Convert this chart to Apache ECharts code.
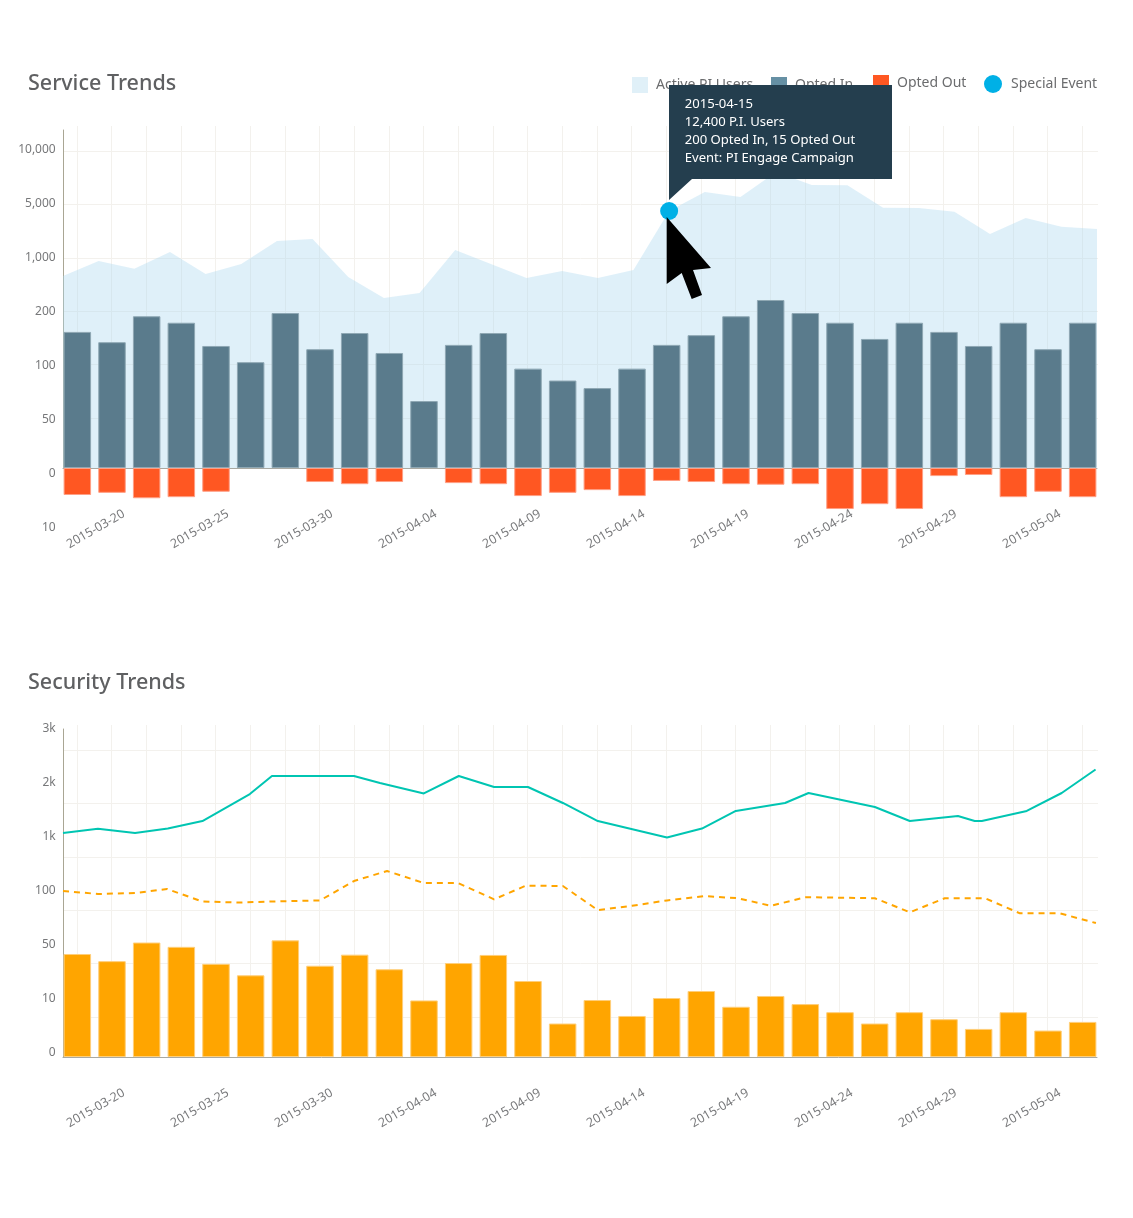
<!DOCTYPE html>
<html lang="en">
<head>
    <meta charset="utf-8">
    <title>Service and Security Trends</title>
    <style>
        html, body { margin: 0; padding: 0; background: #fff; }
        #main { width: 1133px; height: 1218px; }
    </style>
</head>
<body>
<div id="main"></div>
<script src="https://cdn.jsdelivr.net/npm/echarts@6/dist/echarts.min.js"></script>
<script>
var dates = ['2015-03-19','2015-03-20','2015-03-21','2015-03-23','2015-03-25','2015-03-26','2015-03-28','2015-03-30','2015-03-31','2015-04-02',
    '2015-04-04','2015-04-05','2015-04-07','2015-04-09','2015-04-10','2015-04-12','2015-04-14','2015-04-15','2015-04-17','2015-04-19',
    '2015-04-20','2015-04-22','2015-04-24','2015-04-25','2015-04-27','2015-04-29','2015-04-30','2015-05-02','2015-05-04','2015-05-05'];

// the y axes are not linear, each tick value sits one step above the last
var serviceTicks = [-10, 0, 50, 100, 200, 1000, 5000, 10000];
var serviceTickLabels = ['10', '0', '50', '100', '200', '1,000', '5,000', '10,000'];
var securityTicks = [0, 10, 50, 100, 1000, 2000, 3000];
var securityTickLabels = ['0', '10', '50', '100', '1k', '2k', '3k'];

var activeUsers = [644,867,753,1000,674,822,1815,1963,630,319,393,1148,822,615,719,615,733,4037,5556,5093,7407,6204,6176,4281,4259,3985,2333,3519,2874,2704];
var optedIn = [152,133,181,169,126,98,187,120,150,113,62,128,150,92,81,74,92,128,146,181,289,187,169,139,169,152,126,169,120,169];
var optedOut = [5,4.6,5.6,5.4,4.4,0,0,2.6,3,2.6,0,2.8,3,5.2,4.6,4.1,5.2,2.4,2.6,3,3.1,3,7.6,6.7,7.6,1.5,1.3,5.4,4.4,5.4];
var eventIndex = 17;
var eventLines = ['2015-04-15', '12,400 P.I. Users', '200 Opted In, 15 Opted Out', 'Event: PI Engage Campaign'];

var securityBars = [46.3,41,56,52,39,30.5,58,37.6,45.8,35,11.9,39.6,45.6,26.3,6.2,12.2,7.6,13.7,18.9,9.3,15.2,9.8,8.3,6.2,8.3,7,5.2,8.3,4.9,6.5];
var tealSteps = [0,0.98,2.02,2.94,3.91,5.24,5.86,8.16,8.89,10.12,11.1,12.09,13.04,14.02,15,16.94,17.92,18.87,20.25,20.91,22.77,23.75,25.1,25.57,25.77,27.03,28.01,28.96];
var tealValues = [1148,1228,1148,1231,1370,1870,2204,2204,2074,1880,2204,2000,2000,1704,1370,1065,1231,1556,1704,1889,1630,1370,1463,1370,1370,1556,1889,2324];
var dashedSteps = [0,0.98,2.02,2.92,3.9,4.96,5.86,7.21,8.16,9.09,10.12,11.08,12.09,12.98,14.02,15,15.96,16.94,18,18.93,19.85,20.84,22.77,23.75,24.73,25.86,26.84,27.96,28.97];
var dashedValues = [167,117,133,200,94,93,94,95,333,500,300,300,96,255,250,86,90,95,99,97,90,98,97,84,97,97,83,83,74];

var font = '"Noto Sans", "Open Sans", sans-serif';
var textColor = '#77787a';
var gridColor = '#f3f1ed';

// value -> position on the stepped axis
function toStep(value, ticks, zeroIndex) {
    for (var i = 1; i < ticks.length; i++) {
        if (value <= ticks[i] || i === ticks.length - 1) {
            return i - 1 - zeroIndex + (value - ticks[i - 1]) / (ticks[i] - ticks[i - 1]);
        }
    }
}
function stepPairs(steps, values, ticks) {
    return steps.map(function (s, i) {
        return [s, toStep(values[i], ticks, 0)];
    });
}

var titleStyle = { fontFamily: font, fontSize: 21.5, fontWeight: 500, color: '#5f6062' };
var option = {
    animation: false,
    textStyle: { fontFamily: font },
    title: [
        { text: 'Service Trends', left: 28, top: 73, padding: 0, textStyle: titleStyle },
        { text: 'Security Trends', left: 28, top: 672, padding: 0, textStyle: titleStyle }
    ],
    legend: [],
    grid: [],
    xAxis: [],
    yAxis: [],
    series: []
};

// one panel is a stack of grids: vertical lines + date labels, horizontal lines, bars + y labels, lines
function addPanel(p) {
    var g = option.grid.length;
    var unit = 54;
    option.grid.push(
        { left: 59.7, width: 1040, top: p.lineTop, height: p.base - p.lineTop },
        { left: 63, width: 1035, top: p.gridTop, height: 53.32 * 5 },
        { left: 60, width: 1040, top: p.base - unit * p.stepsUp, height: unit * (p.stepsUp + p.stepsDown) },
        { left: 63, width: 1034, top: p.axisTop, height: p.base - p.axisTop }
    );
    option.xAxis.push(
        {
            gridIndex: g, type: 'category', data: dates,
            axisLine: { show: false },
            axisTick: { show: false },
            axisLabel: {
                rotate: 30, color: textColor, fontSize: 12.4, fontFamily: font, margin: p.dateMargin,
                padding: [0, -14, 0, 0], hideOverlap: false,
                interval: function (i) { return i % 3 === 1; }
            },
            splitLine: { show: true, alignWithLabel: true, interval: 0, lineStyle: { color: gridColor } }
        },
        { gridIndex: g + 1, type: 'value', min: 0, max: 1, show: false },
        { gridIndex: g + 2, type: 'category', data: dates, show: false },
        {
            gridIndex: g + 3, type: 'value', min: 0, max: 29,
            axisLine: { show: true, onZero: false, lineStyle: { color: '#a9a9a2', width: 1 } },
            axisTick: { show: false }, axisLabel: { show: false }, splitLine: { show: false }
        }
    );
    option.yAxis.push(
        { gridIndex: g, type: 'value', show: false },
        {
            gridIndex: g + 1, type: 'value', min: 0, max: 5, interval: 1,
            axisLine: { show: false }, axisTick: { show: false }, axisLabel: { show: false },
            splitLine: { show: true, lineStyle: { color: gridColor } }
        },
        {
            gridIndex: g + 2, type: 'value', min: -p.stepsDown, max: p.stepsUp, interval: 1,
            axisLine: { show: false }, axisTick: { show: false }, splitLine: { show: false },
            axisLabel: {
                color: textColor, fontSize: 12, fontFamily: font, margin: 4.3, verticalAlign: p.labelAlign, lineHeight: p.labelLine,
                showMinLabel: true, showMaxLabel: true,
                formatter: function (v) { return p.tickLabels[v + p.stepsDown]; }
            }
        },
        {
            gridIndex: g + 3, type: 'value', min: 0, max: (p.base - p.axisTop) / unit,
            axisLine: { show: true, onZero: false, lineStyle: { color: '#a9a694', width: 1 } },
            axisTick: { show: false }, axisLabel: { show: false }, splitLine: { show: false }
        }
    );
    return g;
}

var s = addPanel({ lineTop: 126, gridTop: 151.3, base: 468, axisTop: 130, stepsUp: 6, stepsDown: 1, tickLabels: serviceTickLabels, labelAlign: 'top', labelLine: 12, dateMargin: 52 });
var t = addPanel({ lineTop: 725, gridTop: 750.3, base: 1057, axisTop: 729, stepsUp: 6, stepsDown: 0, tickLabels: securityTickLabels, labelAlign: 'bottom', labelLine: 9, dateMargin: 42 });

option.series.push(
    {
        name: 'Active PI Users', type: 'line', xAxisIndex: s + 3, yAxisIndex: s + 3, showSymbol: false, silent: true, z: 1,
        lineStyle: { width: 0 }, itemStyle: { color: '#e0f0f8' },
        areaStyle: { color: 'rgba(170,216,240,0.38)', origin: 'start', opacity: 1 },
        data: activeUsers.map(function (v, i) { return [i, toStep(v, serviceTicks, 1)]; })
    },
    {
        name: 'Opted In', type: 'bar', xAxisIndex: s + 2, yAxisIndex: s + 2, stack: 'opt', barWidth: 27.5, silent: true, z: 4,
        itemStyle: { color: '#5a7b8c', borderColor: '#8fa8b4', borderWidth: 1 },
        data: optedIn.map(function (v) { return toStep(v, serviceTicks, 1); })
    },
    {
        name: 'Opted Out', type: 'bar', xAxisIndex: s + 2, yAxisIndex: s + 2, stack: 'opt', barWidth: 27.5, silent: true, z: 4,
        itemStyle: { color: '#ff5722', borderColor: '#ff9f85', borderWidth: 1 },
        data: optedOut.map(function (v) { return v ? toStep(-v, serviceTicks, 1) : null; })
    },
    {
        name: 'Special Event', type: 'scatter', xAxisIndex: s + 3, yAxisIndex: s + 3, symbolSize: 18, silent: true, z: 5,
        itemStyle: { color: '#00b0e6', opacity: 1 },
        data: [[eventIndex, toStep(activeUsers[eventIndex], serviceTicks, 1)]]
    },
    {
        name: 'Security Count', type: 'bar', xAxisIndex: t + 2, yAxisIndex: t + 2, barWidth: 27.5, silent: true,
        itemStyle: { color: '#ffa500', borderColor: '#ffcf7a', borderWidth: 1 },
        data: securityBars.map(function (v) { return toStep(v, securityTicks, 0); })
    },
    {
        name: 'Security Total', type: 'line', xAxisIndex: t + 3, yAxisIndex: t + 3, showSymbol: false, silent: true,
        lineStyle: { color: '#00c5b2', width: 2 },
        data: stepPairs(tealSteps, tealValues, securityTicks)
    },
    {
        name: 'Security Average', type: 'line', xAxisIndex: t + 3, yAxisIndex: t + 3, showSymbol: false, silent: true,
        lineStyle: { color: '#ffa500', width: 2, type: [6, 5] },
        data: stepPairs(dashedSteps, dashedValues, securityTicks)
    }
);

function legendItem(name, left, top, color, icon, size) {
    return {
        left: left, top: top, orient: 'horizontal', selectedMode: false, itemWidth: size, itemHeight: size, padding: 0,
        textStyle: { color: '#6b6c6e', fontSize: 14, fontFamily: font, padding: [0, 0, 0, size === 16 ? 3 : 4] },
        data: [{ name: name, icon: icon, itemStyle: { color: color, borderWidth: 0, opacity: 1 }, lineStyle: { width: 0 } }]
    };
}
option.legend = [
    legendItem('Active PI Users', 632, 77, '#e0f0f8', 'rect', 16),
    legendItem('Opted In', 771, 77, '#6690a4', 'rect', 16),
    legendItem('Opted Out', 873, 75, '#ff5722', 'rect', 16),
    legendItem('Special Event', 984, 75, '#00b0e6', 'circle', 18)
];

// callout and mouse pointer sit on top of everything
option.graphic = [
    {
        type: 'polygon', z: 100, silent: true,
        shape: { points: [[669, 85], [892, 85], [892, 179], [692, 179], [669, 200]] },
        style: { fill: '#243e4e' }
    },
    {
        type: 'text', z: 101, silent: true, left: 684.7, top: 95.5,
        style: { text: eventLines.join('\n'), fill: '#fff', fontSize: 13.1, fontFamily: font, lineHeight: 17.8 }
    },
    {
        type: 'polygon', z: 102, silent: true,
        shape: { points: [[666.7, 217], [711, 268], [693, 270], [702, 295], [691.7, 299], [681.7, 273], [666.7, 284]] },
        style: { fill: '#000' }
    }
];

var chart = echarts.init(document.getElementById('main'));
chart.setOption(option);
</script>
</body>
</html>
